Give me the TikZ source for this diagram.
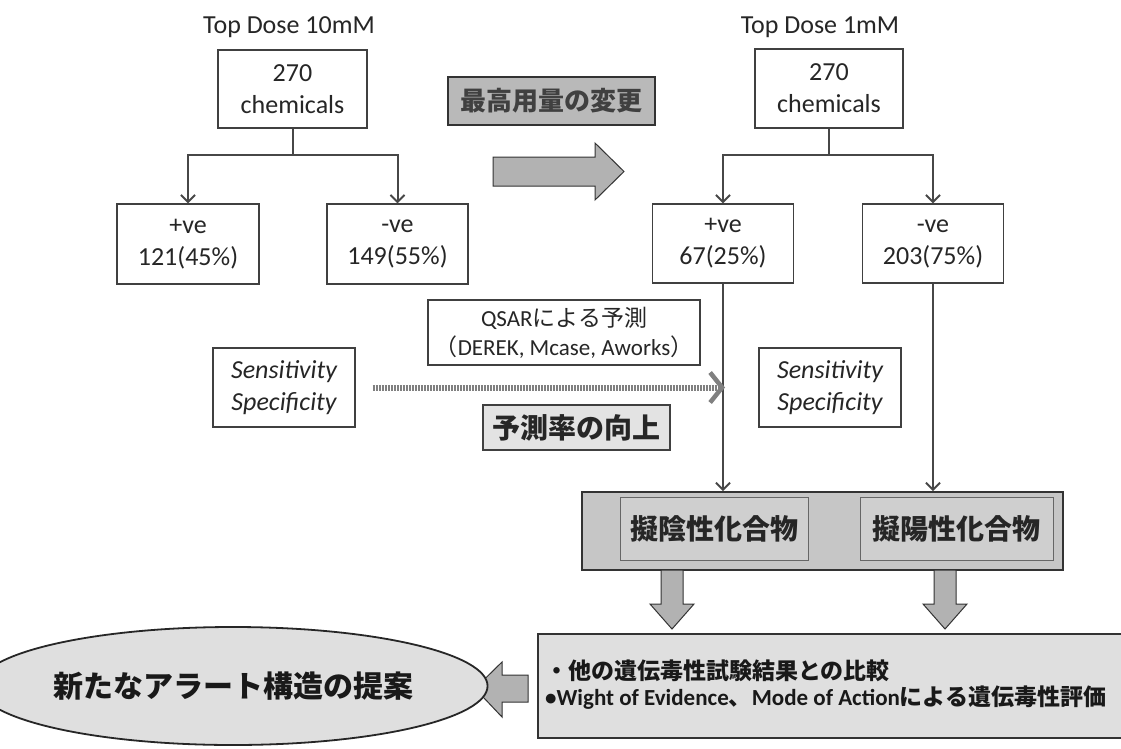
\documentclass[tikz,border=0pt]{standalone}
\usepackage{fontspec}
\setmainfont{Carlito}
\newfontfamily\cjk{Noto Sans CJK JP}
\usetikzlibrary{arrows.meta,shapes.geometric}
\newcommand\jp[1]{{\cjk #1}}
\tikzset{
  box/.style={draw=black!75, line width=1.3pt, fill=white, align=center, inner sep=0pt, text=black!85},
  conn/.style={draw=black!72, line width=2pt, -{Straight Barb[length=7pt,width=14pt]}},
  plain/.style={draw=black!72, line width=2pt},
  blockarrow/.style={draw=black!80, line width=1pt, fill=gray!60},
  dotarr/.style={draw=black!50, line width=6pt, dash pattern=on 2pt off 1pt, -{Straight Barb[length=12pt,width=30pt,line width=4.5pt]}},
  big/.style={font=\fontsize{26}{32}\selectfont},
  jpbold/.style={font=\cjk\bfseries\fontsize{28}{32}\selectfont},
}
\begin{document}
\begin{tikzpicture}[x=1pt,y=-1pt]
\useasboundingbox[fill=white] (0,0) rectangle (1121,749);

% ---------- left tree ----------
\node[big, text=black!85] (tdL) at (289,27) {Top Dose 10mM};
\node[box, big, minimum width=149, minimum height=78] (chemL) at (292.5,89) {270\\chemicals};
\node[box, big, minimum width=142, minimum height=80] (posL) at (188,244) {+ve\\121(45\%)};
\node[box, big, minimum width=141, minimum height=80] (negL) at (397.5,244) {-ve\\149(55\%)};
\coordinate (jL) at (292.5,155);
\draw[plain] (chemL.south) -- (jL);
\draw[conn] (jL) -| (posL.north);
\draw[conn] (jL) -| (negL.north);

% ---------- banner and big arrow ----------
\node[draw=black!80, line width=1.2pt, fill=gray!55, minimum width=207, minimum height=48, inner sep=0pt,
      font=\cjk\bfseries\fontsize{26}{30}\selectfont, text=black!75] (banner) at (551.5,101) {最高用量の変更};
\draw[blockarrow] (493,157) -- (595,157) -- (595,143) -- (624,171.5) -- (595,200) -- (595,186) -- (493,186) -- cycle;

% ---------- right tree ----------
\node[big, text=black!85] (tdR) at (820,27) {Top Dose 1mM};
\node[box, big, minimum width=148, minimum height=79] (chemR) at (829,88.5) {270\\chemicals};
\node[box, big, minimum width=141, minimum height=79] (posR) at (723,243.5) {+ve\\67(25\%)};
\node[box, big, minimum width=141, minimum height=79] (negR) at (933,243.5) {-ve\\203(75\%)};
\coordinate (jR) at (829,155);
\draw[plain] (chemR.south) -- (jR);
\draw[conn] (jR) -| (posR.north);
\draw[conn] (jR) -| (negR.north);

% ---------- middle ----------
\node[box, font=\fontsize{23}{29}\selectfont, minimum width=272, minimum height=65] (qsar) at (564,332.5)
  {QSAR\jp{による予測}\\\jp{（}DEREK, Mcase, Aworks\jp{）}};
\node[box, font=\itshape\fontsize{26}{32}\selectfont, minimum width=142, minimum height=79] (sensL) at (284,387.5) {Sensitivity\\Specificity};
\node[box, font=\itshape\fontsize{26}{32}\selectfont, minimum width=142, minimum height=79] (sensR) at (830,387.5) {Sensitivity\\Specificity};
\node[draw=black!75, line width=1.2pt, fill=gray!22, minimum width=187, minimum height=45, inner sep=0pt,
      jpbold, text=black!85] (up) at (576.5,427.5) {予測率の向上};

% ---------- container ----------
\node[draw=black!80, line width=1.8pt, fill=gray!45, minimum width=481, minimum height=78, inner sep=0pt] (cont) at (822.5,531) {};
\node[draw=black!60, line width=0.8pt, fill=gray!38, minimum width=188, minimum height=63, inner sep=0pt, jpbold, text=black!85] (fneg) at (714,528.5) {擬陰性化合物};
\node[draw=black!60, line width=0.8pt, fill=gray!38, minimum width=193, minimum height=63, inner sep=0pt, jpbold, text=black!85] (fpos) at (956.5,528.5) {擬陽性化合物};

\draw[conn] (posR.south) -- (posR.south |- cont.north);
\draw[conn] (negR.south) -- (negR.south |- cont.north);
\draw[dotarr] ([xshift=17pt]sensL.east) -- ([xshift=2pt]sensL.east -| posR.south);

% thick down arrows
\draw[blockarrow] (661,570) -- (683,570) -- (683,604) -- (694,604) -- (672,629) -- (650,604) -- (661,604) -- cycle;
\draw[blockarrow] (934,570) -- (956,570) -- (956,604) -- (967,604) -- (945,629) -- (923,604) -- (934,604) -- cycle;

% ---------- bottom ----------
\node[draw=black!80, line width=1.8pt, fill=gray!25, minimum width=590, minimum height=104, inner sep=0pt, anchor=north west] (bot) at (537,633) {};
\node[anchor=west, align=left, inner sep=0pt, text=black!90, font=\bfseries\fontsize{23}{26}\selectfont] (bottxt) at (545,685)
  {\jp{・他の遺伝毒性試験結果との比較}\\\textbullet Wight of Evidence\jp{、}Mode of Action\jp{による遺伝毒性評価}};

\draw[blockarrow] (528,675) -- (502,675) -- (502,662) -- (475,688.5) -- (502,717) -- (502,702) -- (528,702) -- cycle;

\node[ellipse, draw=black!85, line width=1.8pt, fill=gray!25, minimum width=424, minimum height=118, inner sep=0pt,
      font=\cjk\bfseries\fontsize{30}{34}\selectfont, text=black!90] (prop) at (233,686) {新たなアラート構造の提案};
\end{tikzpicture}
\end{document}
